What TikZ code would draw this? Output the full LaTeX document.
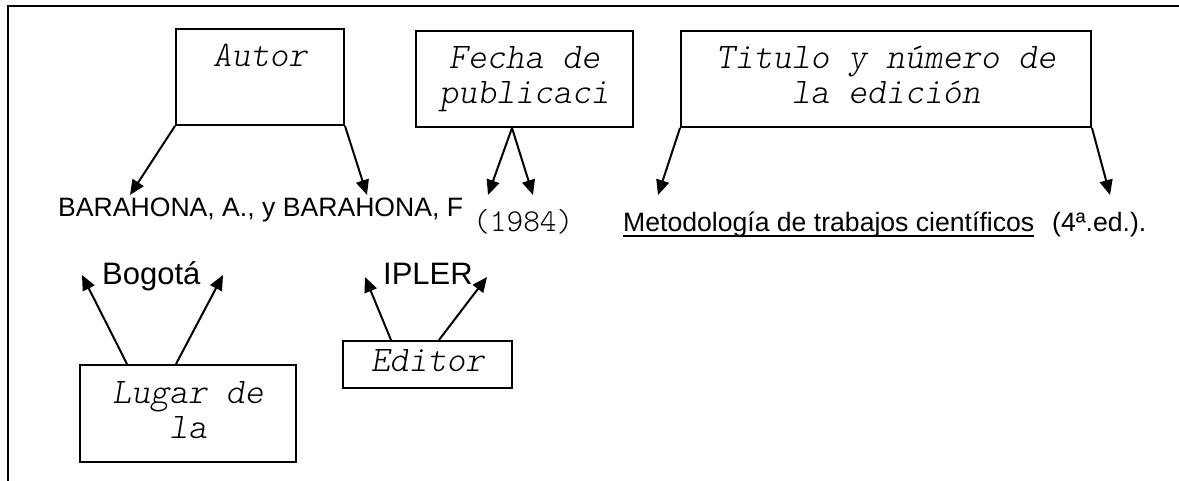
\documentclass[tikz,border=0pt]{standalone}
\usepackage{fontspec}
\setmainfont{Liberation Sans}
\setmonofont{lmmonolt10-regular.otf}[ItalicFont=lmmonolt10-oblique.otf]
\usetikzlibrary{arrows.meta}
\begin{document}
\begin{tikzpicture}[x=1pt, y=-1pt,
        caja/.style={draw, line width=2pt, align=center, inner sep=0pt,
            font=\fontsize{36}{35}\selectfont\ttfamily\itshape},
        flecha/.style={line width=2pt, -{Triangle[length=15pt,width=13pt]}},
        dato/.style={inner sep=0pt, anchor=base west},
        chico/.style={font=\fontsize{26.6}{30}\selectfont},
        grande/.style={font=\fontsize{31}{35}\selectfont}]
        \useasboundingbox (0,0) rectangle (1179,481);
        % Frame (top and left only)
        \draw[line width=2pt] (8,481) -- (8,6) -- (1179,6);
        % Boxes
        \node[caja, minimum width=168pt, minimum height=96pt] (autor) at (260,77) {\strut Autor\\\strut};
        \node[caja, minimum width=217pt, minimum height=96pt] (fecha) at (524.5,79) {\strut Fecha de\\\strut publicaci};
        \node[caja, minimum width=410pt, minimum height=96pt] (titulo) at (886,79) {\strut Titulo y número de\\\strut la edición};
        \node[caja, minimum width=216pt, minimum height=97pt] (lugar) at (188,413.5) {\strut Lugar de\\\strut la};
        \node[caja, minimum width=169pt, minimum height=47pt] (editor) at (427.5,364.5) {\raisebox{-5pt}{\strut Editor}};
        % Reference data
        \node[dato, chico] (barahona) at (58,217) {BARAHONA, A., y BARAHONA, F};
        \node[dato, font=\fontsize{31.8}{35}\selectfont\ttfamily] (anio) at (473,232) {(1984)};
        \node[dato, chico] (metodo) at (623,232) {Metodología de trabajos científicos};
        \node[dato, chico] (edicion) at (1052,232) {(4ª.ed.).};
        \node[dato, grande] (bogota) at (102,285) {Bogotá};
        \node[dato, grande] (ipler) at (383,285) {IPLER};
        % Underline of the title
        \draw[line width=1.8pt] ([yshift=-4pt]metodo.base west) -- ([yshift=-4pt]metodo.base east);
        % Arrow tips
        \coordinate (a1) at (130,195);
        \coordinate (a2) at (367,195);
        \coordinate (f1) at (488,195);
        \coordinate (f2) at (533,195);
        \coordinate (t1) at (658,195);
        \coordinate (t2) at (1110,195);
        \coordinate (l1) at (82,275);
        \coordinate (l2) at (223,275);
        \coordinate (e1) at (365,277);
        \coordinate (e2) at (487,277);
        % Arrows
        \draw[flecha] (autor.south west) -- (a1);
        \draw[flecha] (autor.south east) -- (a2);
        \draw[flecha] ([xshift=-12.5pt]fecha.south) -- (f1);
        \draw[flecha] ([xshift=-12.5pt]fecha.south) -- (f2);
        \draw[flecha] (titulo.south west) -- (t1);
        \draw[flecha] (titulo.south east) -- (t2);
        \draw[flecha] ([xshift=48pt]lugar.north west) -- (l1);
        \draw[flecha] ([xshift=97pt]lugar.north west) -- (l2);
        \draw[flecha] ([xshift=49pt]editor.north west) -- (e1);
        \draw[flecha] ([xshift=97pt]editor.north west) -- (e2);
    \end{tikzpicture}
\end{document}
